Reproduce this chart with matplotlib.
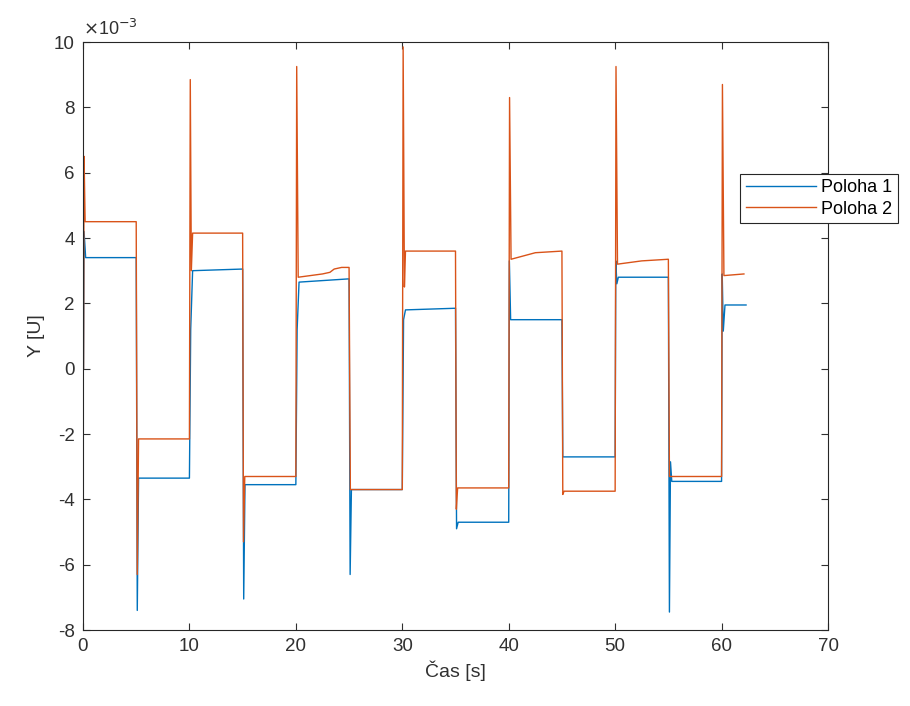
import matplotlib
matplotlib.use("Agg")
import matplotlib.pyplot as plt

plt.rcParams['font.family'] = ['Liberation Sans', 'DejaVu Sans']
plt.rcParams['axes.unicode_minus'] = False

# Measured response, values in units of 1e-3
t_poloha1 = [0.05, 0.1, 0.25, 5.0, 5.1, 5.22, 10.0, 10.12, 10.3, 15.0, 15.1, 15.22,
             20.0, 20.12, 20.3, 25.0, 25.1, 25.22, 30.0, 30.12, 30.3, 35.0, 35.1, 35.25,
             40.0, 40.06, 40.18, 45.0, 45.08, 50.0, 50.06, 50.16, 50.3, 55.0, 55.1,
             55.2, 55.32, 60.0, 60.06, 60.16, 60.32, 62.3]
y_poloha1 = [0.0, 4.2, 3.4, 3.4, -7.4, -3.35, -3.35, 1.2, 3.0, 3.05, -7.05, -3.55,
             -3.55, 1.2, 2.65, 2.75, -6.3, -3.7, -3.7, 1.5, 1.8, 1.85, -4.9, -4.7,
             -4.7, 3.3, 1.5, 1.5, -2.7, -2.7, 3.3, 2.6, 2.8, 2.8, -7.45,
             -2.85, -3.45, -3.45, 2.9, 1.15, 1.95, 1.95]

t_poloha2 = [0.05, 0.1, 0.2, 5.0, 5.1, 5.22, 10.0, 10.08, 10.18, 10.3, 15.0, 15.08, 15.2,
             20.0, 20.08, 20.22, 22.5, 23.2, 23.6, 24.3, 25.0, 25.12, 30.0, 30.08, 30.2,
             30.3, 35.0, 35.08, 35.2, 40.0, 40.08, 40.22, 42.5, 45.0, 45.08, 45.2,
             50.0, 50.08, 50.22, 52.5, 55.0, 55.1, 60.0, 60.08, 60.22, 62.1]
y_poloha2 = [0.0, 6.5, 4.5, 4.5, -6.3, -2.15, -2.15, 8.85, 3.0, 4.15, 4.15, -5.3, -3.3,
             -3.3, 9.25, 2.8, 2.9, 2.95, 3.05, 3.1, 3.1, -3.7, -3.7, 9.85, 2.5,
             3.6, 3.6, -4.3, -3.65, -3.65, 8.3, 3.35, 3.55, 3.6, -3.85, -3.75,
             -3.75, 9.25, 3.2, 3.3, 3.35, -3.3, -3.3, 8.7, 2.85, 2.9]

series_labels = ["Poloha 1", "Poloha 2"]
x_ticks = [0, 10, 20, 30, 40, 50, 60, 70]
y_ticks = [-8, -6, -4, -2, 0, 2, 4, 6, 8, 10]

fig = plt.figure(figsize=(9.10, 7.06), dpi=100)
ax = fig.add_axes([0.0912, 0.1076, 0.8187, 0.8329])

ax.plot(t_poloha1, y_poloha1, color="#0072BD", lw=1.0, label=series_labels[0])
ax.plot(t_poloha2, y_poloha2, color="#D95319", lw=1.0, label=series_labels[1])

ax.set_xlim(0, 70)
ax.set_ylim(-8, 10)
ax.set_xticks(x_ticks)
ax.set_yticks(y_ticks)
ax.tick_params(direction="in", top=True, right=True, length=5, width=0.8,
               labelsize=13.5, colors="#303030", pad=6)
for s in ax.spines.values():
    s.set_color("#262626")
    s.set_linewidth(0.8)

ax.set_xlabel("Čas [s]", fontsize=14, color="#303030", labelpad=4)
ax.set_ylabel("Y [U]", fontsize=14, color="#303030", labelpad=6)

ax.text(0.0, 1.005, r"$\times$10$^{-3}$", transform=ax.transAxes,
        fontsize=13, color="#303030", ha="left", va="bottom")

leg = ax.legend(loc="upper left", bbox_to_anchor=(0.882, 0.776), frameon=True,
                fancybox=False, edgecolor="#262626", framealpha=1, fontsize=13,
                handlelength=3.9, handletextpad=0.3, borderpad=0.3,
                labelspacing=0.25, borderaxespad=0)
leg.get_frame().set_linewidth(0.8)
leg.set_clip_on(False)

fig.savefig("out.png", dpi=100)
